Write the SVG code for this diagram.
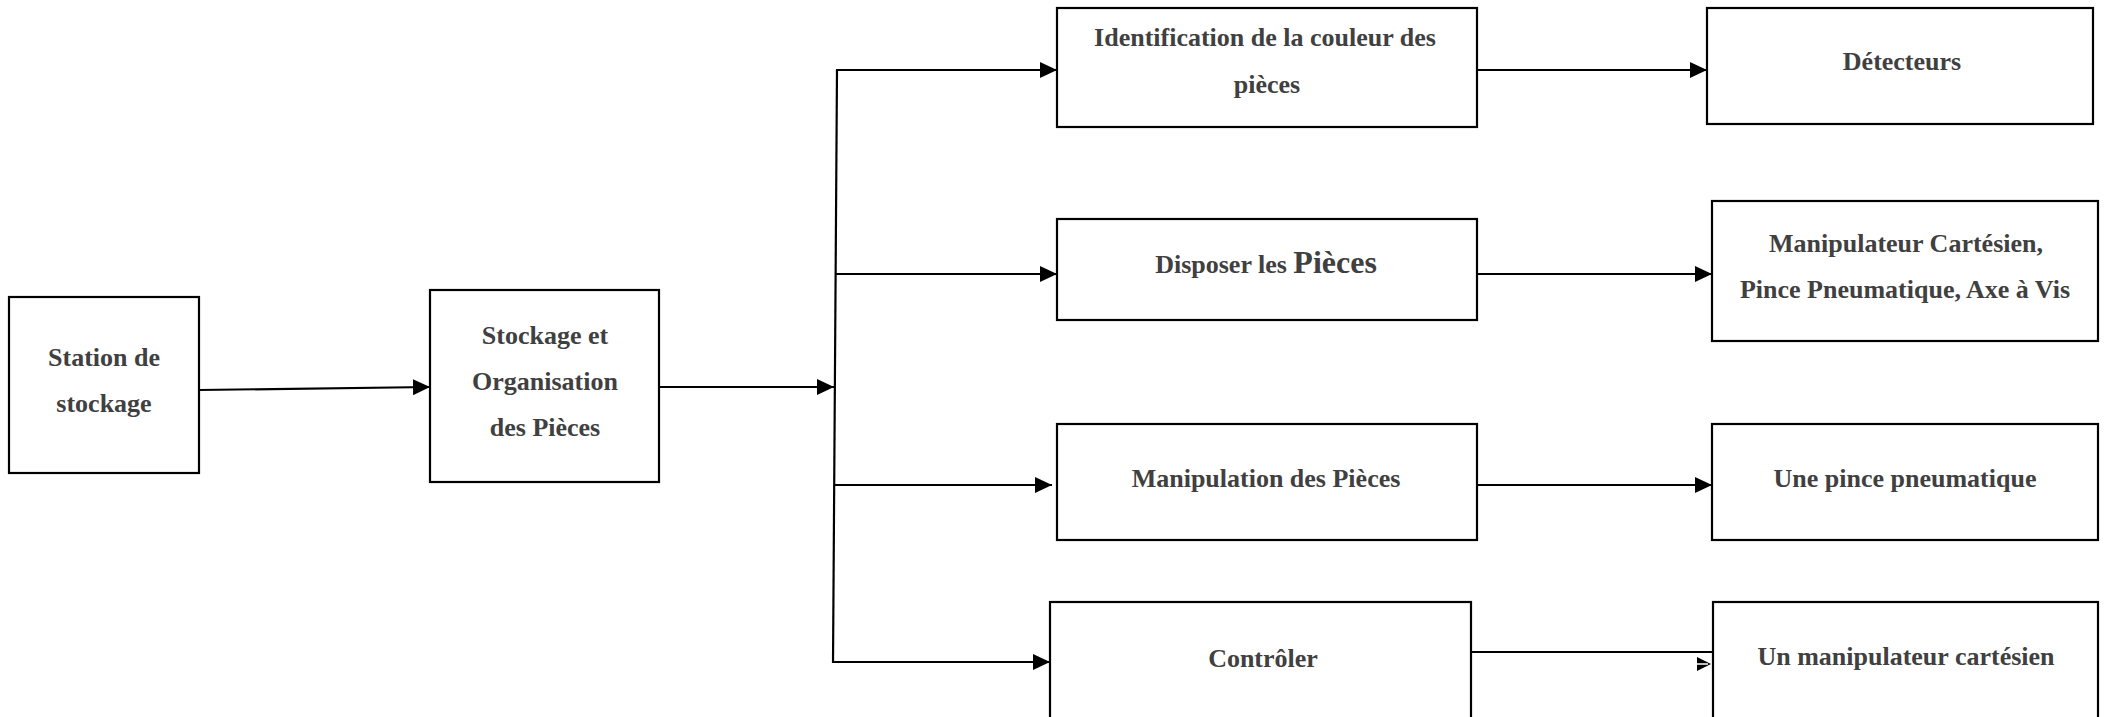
<svg xmlns="http://www.w3.org/2000/svg" width="2106" height="717" viewBox="0 0 2106 717">
<style>
.box{fill:#ffffff;stroke:#000000;stroke-width:2.2}
.lbl{font-family:"Liberation Serif","Times New Roman",serif;font-weight:bold;font-size:26px;fill:#404040;text-anchor:middle}
.big{font-size:32px}
.con{fill:none;stroke:#000000;stroke-width:2.2}
</style>
<defs>
<marker id="arr" markerUnits="userSpaceOnUse" markerWidth="18" markerHeight="16" viewBox="0 0 18 16" refX="17" refY="8" orient="auto">
<path d="M0,0 L17,8 L0,16 Z" fill="#000000"/>
</marker>
</defs>
<rect width="2106" height="717" fill="#ffffff"/>
<g id="connectors">
<line class="con" x1="199" y1="390" x2="430" y2="387" marker-end="url(#arr)"/>
<line class="con" x1="659" y1="387" x2="834" y2="387" marker-end="url(#arr)"/>
<line class="con" x1="837" y1="70" x2="833" y2="663"/>
<line class="con" x1="836" y1="70" x2="1057" y2="70" marker-end="url(#arr)"/>
<line class="con" x1="836" y1="274" x2="1057" y2="274" marker-end="url(#arr)"/>
<line class="con" x1="834" y1="485" x2="1052" y2="485" marker-end="url(#arr)"/>
<line class="con" x1="833" y1="662" x2="1050" y2="662" marker-end="url(#arr)"/>
<line class="con" x1="1477" y1="70" x2="1707" y2="70" marker-end="url(#arr)"/>
<line class="con" x1="1477" y1="274" x2="1712" y2="274" marker-end="url(#arr)"/>
<line class="con" x1="1477" y1="485" x2="1712" y2="485" marker-end="url(#arr)"/>
<line class="con" x1="1471" y1="652" x2="1713" y2="652"/>
<path d="M1697,657 L1711,664 L1697,671 Z" fill="#000000"/>
<line x1="1697" y1="664" x2="1708" y2="664" stroke="#ffffff" stroke-width="1.5"/>
</g>
<g id="station">
<rect class="box" x="9" y="297" width="190" height="176"/>
<text class="lbl" x="104" y="366">Station de</text>
<text class="lbl" x="104" y="412">stockage</text>
</g>
<g id="stockage">
<rect class="box" x="430" y="290" width="229" height="192"/>
<text class="lbl" x="545" y="344">Stockage et</text>
<text class="lbl" x="545" y="390">Organisation</text>
<text class="lbl" x="545" y="436">des Pièces</text>
</g>
<g id="identification">
<rect class="box" x="1057" y="8" width="420" height="119"/>
<text class="lbl" x="1265" y="46">Identification de la couleur des</text>
<text class="lbl" x="1267" y="93">pièces</text>
</g>
<g id="disposer">
<rect class="box" x="1057" y="219" width="420" height="101"/>
<text class="lbl" x="1266" y="273">Disposer les <tspan class="big">Pièces</tspan></text>
</g>
<g id="manipulation">
<rect class="box" x="1057" y="424" width="420" height="116"/>
<text class="lbl" x="1266" y="487">Manipulation des Pièces</text>
</g>
<g id="controler">
<rect class="box" x="1050" y="602" width="421" height="130"/>
<text class="lbl" x="1263" y="667">Contrôler</text>
</g>
<g id="detecteurs">
<rect class="box" x="1707" y="8" width="386" height="116"/>
<text class="lbl" x="1902" y="70">Détecteurs</text>
</g>
<g id="manipulateur">
<rect class="box" x="1712" y="201" width="386" height="140"/>
<text class="lbl" x="1906" y="252">Manipulateur Cartésien,</text>
<text class="lbl" x="1905" y="298">Pince Pneumatique, Axe à Vis</text>
</g>
<g id="pince">
<rect class="box" x="1712" y="424" width="386" height="116"/>
<text class="lbl" x="1905" y="487">Une pince pneumatique</text>
</g>
<g id="unmanipulateur">
<rect class="box" x="1713" y="602" width="385" height="130"/>
<text class="lbl" x="1906" y="665">Un manipulateur cartésien</text>
</g>
</svg>
